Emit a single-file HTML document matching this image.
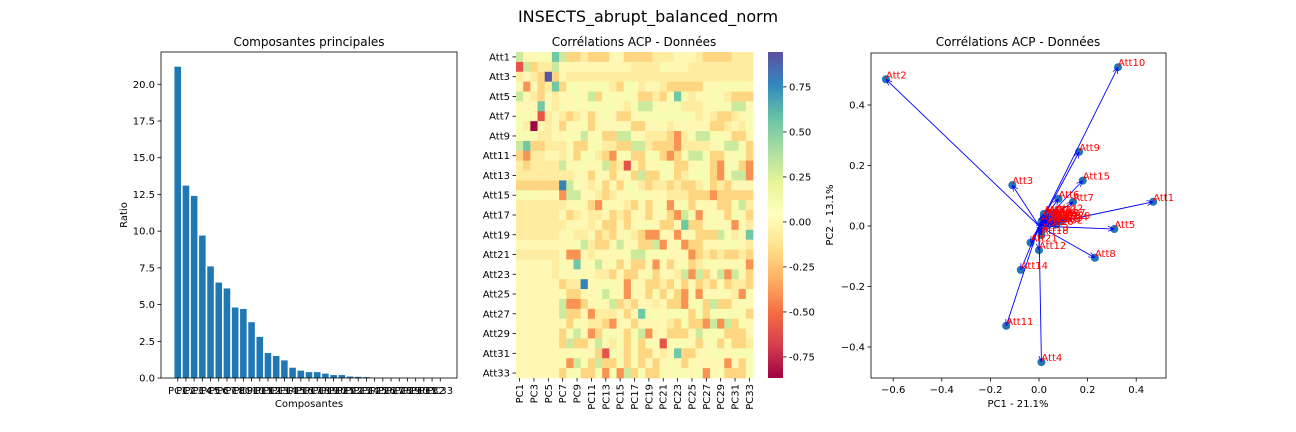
<!DOCTYPE html>
<html><head><meta charset="utf-8"><style>
body{margin:0;background:#fff;}
svg{display:block;font-family:"DejaVu Sans","Liberation Sans",sans-serif;}
</style></head><body>
<svg id="s" width="1296" height="432" viewBox="0 0 1296 432">
<text x="648" y="22" font-size="16" text-anchor="middle">INSECTS_abrupt_balanced_norm</text>
</svg>
<script>
const NS="http://www.w3.org/2000/svg";
const svg=document.getElementById('s');
function E(tag,at,parent,txt){const e=document.createElementNS(NS,tag);for(const k in at)e.setAttribute(k,at[k]);if(txt!==undefined)e.textContent=txt;(parent||svg).appendChild(e);return e;}

// ---------- Data ----------
const barLabels=[];for(let i=1;i<=33;i++)barLabels.push('PC'+i);
const barValues=[21.2,13.1,12.4,9.7,7.6,6.5,6.1,4.8,4.7,3.8,2.8,1.7,1.5,1.2,0.7,0.5,0.4,0.4,0.3,0.2,0.2,0.1,0.08,0.06,0.02,0.01,0.01,0.01,0,0,0,0,0];
const barTicks=[0,2.5,5,7.5,10,12.5,15,17.5,20];

const heatRows=[];for(let i=1;i<=33;i++)heatRows.push('Att'+i);
const heatCols=barLabels;
const levelValues={R:-0.85,r:-0.6,o:-0.4,l:-0.18,y:-0.07,w:0,g:0.1,G:0.3,T:0.55,B:0.78,P:0.93};
const heatCodes=[
"GwwggTGllylllwwllllyyywwwyllllyyy",
"rGlyyGwwwwwwwwwwyyyygwwwyyyyyyyyy",
"ywylPlwyyyyyyyyyyyyyyyyyyyyyyyyyy",
"wowlyTlggwgggylggywwylllllwwggggw",
"GwylwywwgwGlggwgwllylgTgywwgwylll",
"wwwTwygwgwggggwygGGgwggyyywwggGGw",
"ggwrywylywlwgwllwggggggggywyllywg",
"gyRwywlwwglwwwwwllwwwywwwwwllywyg",
"gggyywwggGwgllGGwwyyyloygGGggwllw",
"GTllyyywllggyyllGGyllloyyyywgGGgl",
"loyywwyglggyloggllgglolgGGgllwggl",
"ylyyyyGwggwwGlyrwlwwggllwgglogglo",
"yyyyyyyywwlwwlwwlGllgglyggglogGGo",
"llllllBGgwywlwlggylyylyllyglylwww",
"gggwwwoGGwwylywwggwwwyyylllolllllw",
"yyyyyyywgwlogwwylwlwgowglwwwllgGy",
"yyyyyywlywyywlylwwlwwloGgowgwlgwl",
"yyyyyyywwwywllwlwggwllwTllwgwwowy",
"yyyyyywgyywlylwgyloowwowglllGgywT",
"wwwwwwwwgGyllwGwwllGowwollwwwggwy",
"yyyyyywoowywwwwgGGgwgwwwolylyllyl",
"wwwwwygwTwgGwglwllwowlwglyggwwwwo",
"wwwwwywwwwwyylwllwglwwyGoGlwGoGwl",
"wwwwwwlyyBwwggwowwllylwlwlylglyyl",
"wwwwwwgllwwgGgwowwlglwlogowwgwyog",
"wwwwwwGoolwgwGlylwwywllogglGllwgw",
"wwwwwwGllwoyyywlwTggwggglglgggggl",
"wwwwwwwlgwyylowwlwwwwylgllo GoGlgw".replace(' ',''),
"wwwwwwlgGwolggwlgGowwlllwGggglllww",
"wwwwwwlGllwGwyglglgwrwggwlwglglly",
"wwwwwwwwgwwlrgwlgllwywTllwwggwggg",
"wwwwwwgoGglGllglglwlwgwlgwwwwowlg",
"wwwwwwlggllgogoGlgllgwggwgowglllgg"];

const scatterNames=['Att1','Att2','Att3','Att4','Att5','Att6','Att7','Att8','Att9','Att10','Att11','Att12','Att13','Att14','Att15','Att16','Att17','Att18','Att19','Att20','Att21','Att22','Att23','Att24','Att25','Att26','Att27','Att28','Att29','Att30','Att31','Att32','Att33'];
const scatterPC1=[0.47,-0.63,-0.11,0.01,0.31,0.08,0.14,0.23,0.165,0.325,-0.135,0.0,0.01,-0.075,0.18,0.03,0.05,0.01,0.06,0.04,-0.035,0.07,0.02,0.09,0.05,0.03,0.08,0.06,0.1,0.04,0.02,0.07,0.01];
const scatterPC2=[0.08,0.485,0.135,-0.45,-0.01,0.09,0.08,-0.105,0.245,0.525,-0.33,-0.08,-0.02,-0.145,0.15,0.03,0.02,-0.03,0.01,0.04,-0.055,0.045,0.035,0.015,0.025,0.0,0.03,0.02,0.02,0.01,0.04,0.005,0.015];
const scXTicks=[-0.6,-0.4,-0.2,0.0,0.2,0.4];
const scYTicks=[-0.4,-0.2,0.0,0.2,0.4];
const cbTicks=[0.75,0.5,0.25,0,-0.25,-0.5,-0.75];

// ---------- Bar chart ----------
const B={l:161,r:457,t:52,b:378,x0:-2.04,x1:34.04,y0:0,y1:22.2};
const bx=v=>B.l+(v-B.x0)/(B.x1-B.x0)*(B.r-B.l);
const by=v=>B.b-(v-B.y0)/(B.y1-B.y0)*(B.b-B.t);
E('text',{x:309,y:46,'font-size':12,'text-anchor':'middle',},null,'Composantes principales');
const bg=E('g',{});
barValues.forEach((v,i)=>{
  const r=E('rect',{x:bx(i-0.4),y:by(v),width:bx(i+0.4)-bx(i-0.4),height:by(0)-by(v),fill:'#1f77b4'},bg);
  
  
  E('line',{x1:bx(i),x2:bx(i),y1:B.b,y2:B.b+3.5,stroke:'#000','stroke-width':0.8},bg);
  const t=E('text',{x:bx(i),y:B.b+16,'font-size':10,'text-anchor':'middle'},bg,barLabels[i]);
  
  
});
barTicks.forEach(v=>{
  E('line',{x1:B.l-3.5,x2:B.l,y1:by(v),y2:by(v),stroke:'#000','stroke-width':0.8});
  const t=E('text',{x:B.l-6,y:by(v)+3.5,'font-size':10,'text-anchor':'end'},null,v.toFixed(1));
  
  
});
E('rect',{x:B.l,y:B.t,width:B.r-B.l,height:B.b-B.t,fill:'none',stroke:'#000','stroke-width':0.8,});
E('text',{x:309,y:407,'font-size':10,'text-anchor':'middle',},null,'Composantes');
E('text',{x:127,y:215,'font-size':10,'text-anchor':'middle',transform:'rotate(-90 127 215)',},null,'Ratio');

// ---------- Heatmap ----------
const H={l:516,r:753,t:52,b:378};
const cw=(H.r-H.l)/33, ch=(H.b-H.t)/33;
const vmin=-0.867,vmax=0.944;
const spec=['9e0142','d53e4f','f46d43','fdae61','fee08b','ffffbf','e6f598','abdda4','66c2a5','3288bd','5e4fa2'];
function cmap(v){let t=(v-vmin)/(vmax-vmin);t=Math.max(0,Math.min(1,t))*10;const i=Math.min(9,Math.floor(t)),f=t-i;
 const a=spec[i],b=spec[i+1];let s='#';for(let k=0;k<3;k++){const c=Math.round(parseInt(a.substr(k*2,2),16)*(1-f)+parseInt(b.substr(k*2,2),16)*f);s+=c.toString(16).padStart(2,'0');}return s;}
E('text',{x:634,y:46,'font-size':12,'text-anchor':'middle',},null,'Corrélations ACP - Données');
const hg=E('g',{});
heatCodes.forEach((row,i)=>{
  for(let j=0;j<33;j++){
    const v=levelValues[row[j]]!==undefined?levelValues[row[j]]:0;
    const c=E('rect',{x:H.l+j*cw,y:H.t+i*ch,width:cw+0.4,height:ch+0.4,fill:cmap(v)},hg);
    
    
  }
});
for(let i=0;i<33;i+=2){
  const y=H.t+(i+0.5)*ch;
  E('line',{x1:H.l-3.5,x2:H.l,y1:y,y2:y,stroke:'#000','stroke-width':0.8});
  const t=E('text',{x:H.l-6,y:y+3.5,'font-size':10,'text-anchor':'end'},null,heatRows[i]);
  
  
  const x=H.l+(i+0.5)*cw;
  E('line',{x1:x,x2:x,y1:H.b,y2:H.b+3.5,stroke:'#000','stroke-width':0.8});
  const u=E('text',{x:x+3.5,y:H.b+6,'font-size':10,'text-anchor':'end',transform:`rotate(-90 ${x+3.5} ${H.b+6})`},null,heatCols[i]);
  
  
}
// colorbar
const C={l:768,r:783,t:52,b:378};
const defs=E('defs',{});
const lg=E('linearGradient',{id:'cb',x1:0,y1:1,x2:0,y2:0},defs);
spec.forEach((s,i)=>E('stop',{offset:i/10,'stop-color':'#'+s},lg));
E('rect',{x:C.l,y:C.t,width:C.r-C.l,height:C.b-C.t,fill:'url(#cb)',});
const cy=v=>C.b-(v-vmin)/(vmax-vmin)*(C.b-C.t);
cbTicks.forEach(v=>{
  E('line',{x1:C.r,x2:C.r+3.5,y1:cy(v),y2:cy(v),stroke:'#000','stroke-width':0.8});
  const t=E('text',{x:C.r+6,y:cy(v)+3.5,'font-size':10},null,v.toFixed(2));
  
  
});

// ---------- Scatter ----------
const S={l:871,r:1166,t:53,b:378};
const sx=v=>1039+v*243;
const sy=v=>226-v*302.5;
E('text',{x:1018,y:46,'font-size':12,'text-anchor':'middle',},null,'Corrélations ACP - Données');
E('marker',{id:'ah',viewBox:'0 0 10 10',refX:10,refY:5,markerWidth:7,markerHeight:7,orient:'auto'},defs).appendChild((()=>{const p=document.createElementNS(NS,'path');p.setAttribute('d','M0,1 L10,5 L0,9');p.setAttribute('fill','none');p.setAttribute('stroke','#00f');p.setAttribute('stroke-width','1.2');return p;})());
const sg=E('g',{});
scatterNames.forEach((n,i)=>{
  const c=E('circle',{cx:sx(scatterPC1[i]),cy:sy(scatterPC2[i]),r:4,fill:'#1f77b4'},sg);
  
  
});
scatterNames.forEach((n,i)=>{
  const a=E('line',{x1:sx(0),y1:sy(0),x2:sx(scatterPC1[i]),y2:sy(scatterPC2[i]),stroke:'#00f','stroke-width':0.9,'marker-end':'url(#ah)'},sg);
  
  
});
scatterNames.forEach((n,i)=>{
  const t=E('text',{x:sx(scatterPC1[i]),y:sy(scatterPC2[i])-1,'font-size':10,fill:'#f00'},sg,n);
  
  
});
scXTicks.forEach(v=>{
  E('line',{x1:sx(v),x2:sx(v),y1:S.b,y2:S.b+3.5,stroke:'#000','stroke-width':0.8});
  const t=E('text',{x:sx(v),y:S.b+15,'font-size':10,'text-anchor':'middle'},null,v.toFixed(1).replace('-','−'));
  
  
});
scYTicks.forEach(v=>{
  E('line',{x1:S.l-3.5,x2:S.l,y1:sy(v),y2:sy(v),stroke:'#000','stroke-width':0.8});
  const t=E('text',{x:S.l-6,y:sy(v)+3.5,'font-size':10,'text-anchor':'end'},null,v.toFixed(1).replace('-','−'));
  
  
});
E('rect',{x:S.l,y:S.t,width:S.r-S.l,height:S.b-S.t,fill:'none',stroke:'#000','stroke-width':0.8,});
E('text',{x:1018,y:407,'font-size':10,'text-anchor':'middle',},null,'PC1 - 21.1%');
E('text',{x:833,y:215,'font-size':10,'text-anchor':'middle',transform:'rotate(-90 833 215)',},null,'PC2 - 13.1%');
</script>
</body></html>
